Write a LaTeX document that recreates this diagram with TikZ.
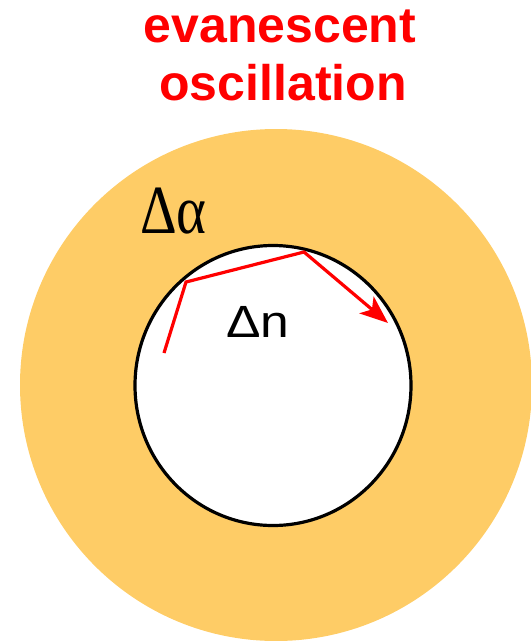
\documentclass[tikz,border=0pt]{standalone}
\usepackage{fontspec}
\setmainfont{Liberation Serif}
\newfontfamily\arialf{Liberation Sans}
\usetikzlibrary{arrows.meta}
\definecolor{ringorange}{RGB}{254,204,102}
\definecolor{rayred}{RGB}{255,0,0}
\tikzset{
  titletext/.style={font=\arialf\bfseries\fontsize{50}{58}\selectfont, text=rayred, inner sep=0pt},
  ray/.style={draw=rayred, line width=3.2pt, line join=miter},
}
\begin{document}
\begin{tikzpicture}[x=1pt,y=-1pt]
\useasboundingbox (0,0) rectangle (531,641);
% outer ring
\fill[ringorange] (276,385) circle [radius=256];
% inner circle
\filldraw[fill=white, draw=black, line width=3.2pt] (273,385.5) ellipse [x radius=138, y radius=140];
% title
\node[titletext, anchor=base] (t1) at (280,42) {evanescent};
\node[titletext, anchor=base] (t2) at (283,100) {oscillation};
% labels
\node[anchor=base west, inner sep=0pt, font=\fontsize{60}{66}\selectfont] (da) at (140,233) {\scalebox{0.95}[1.15]{Δα}};
\node[anchor=base west, inner sep=0pt, font=\arialf\fontsize{43}{50}\selectfont] (dn) at (226,337) {\scalebox{1.2}[1.05]{Δn}};
% ray
\coordinate (r0) at (164,353);
\coordinate (r1) at (186,282);
\coordinate (r2) at (304,252);
\coordinate (r3) at (388,323);
\draw[ray, -{Stealth[length=28pt, width=22pt, inset=7pt]}] (r0) -- (r1) -- (r2) -- (r3);
\end{tikzpicture}
\end{document}
